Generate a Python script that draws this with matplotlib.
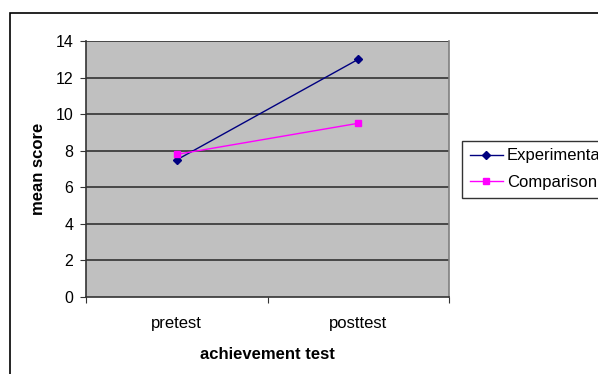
import matplotlib

matplotlib.use("Agg")
import matplotlib.pyplot as plt  # noqa: E402
from matplotlib.patches import Rectangle  # noqa: E402

plt.rcParams["font.family"] = ["Liberation Sans", "DejaVu Sans"]

categories = ["pretest", "posttest"]
experimental = [7.5, 13.0]
comparison = [7.8, 9.5]
y_ticks = [0, 2, 4, 6, 8, 10, 12, 14]

W, H = 598, 374
FS = 12
fig = plt.figure(figsize=(W / 100, H / 100), dpi=100)
fig.patch.set_facecolor("white")

# outer chart border (runs off right and bottom edges)
fig.patches.append(Rectangle((10 / W, -0.1), 1.2, 1 - 13 / H + 0.1,
                             transform=fig.transFigure, fill=False,
                             edgecolor="black", lw=1.2))

ax = fig.add_axes([86 / W, 1 - 297 / H, (449 - 86) / W, (297 - 41) / H])
ax.set_facecolor("#C0C0C0")
x = [0.5, 1.5]
ax.plot(x, experimental, color="#000080", lw=1, marker="D", ms=4.5,
        label="Experimental", zorder=3)
ax.plot(x, comparison, color="#FF00FF", lw=1, marker="s", ms=4.5,
        label="Comparison", zorder=3)

ax.set_xlim(0, 2)
ax.set_ylim(0, 14)
ax.set_yticks(y_ticks)
ax.set_xticks([0, 1, 2])
ax.set_xticklabels([])
ax.set_xticks(x, minor=True)
ax.set_xticklabels(categories, minor=True)
ax.tick_params(axis="x", which="minor", length=0, pad=14, labelsize=FS)
ax.tick_params(axis="x", which="major", length=4, color="#333333")
ax.tick_params(axis="y", length=4, color="#333333", labelsize=11.5, pad=5)
for v in y_ticks[1:]:
    ax.axhline(v, color="#333333", lw=1.2, zorder=1)
for s in ["left", "bottom"]:
    ax.spines[s].set_color("#333333")
    ax.spines[s].set_linewidth(1.2)
ax.spines["top"].set_visible(False)
ax.spines["right"].set_color("#808080")
ax.spines["right"].set_linewidth(1.2)

ax.set_ylabel("mean score", fontsize=FS, fontweight="bold", labelpad=7)
ax.set_xlabel("achievement test", fontsize=FS, fontweight="bold", labelpad=11)

leg = fig.legend(loc="upper left", bbox_to_anchor=(462 / W, 1 - 141 / H),
                 fontsize=FS, frameon=True, fancybox=False, edgecolor="black",
                 borderpad=0.45, handlelength=2.0, handletextpad=0.24,
                 labelspacing=0.7, borderaxespad=0)
leg.get_frame().set_linewidth(1)

fig.savefig("out.png", dpi=100)
